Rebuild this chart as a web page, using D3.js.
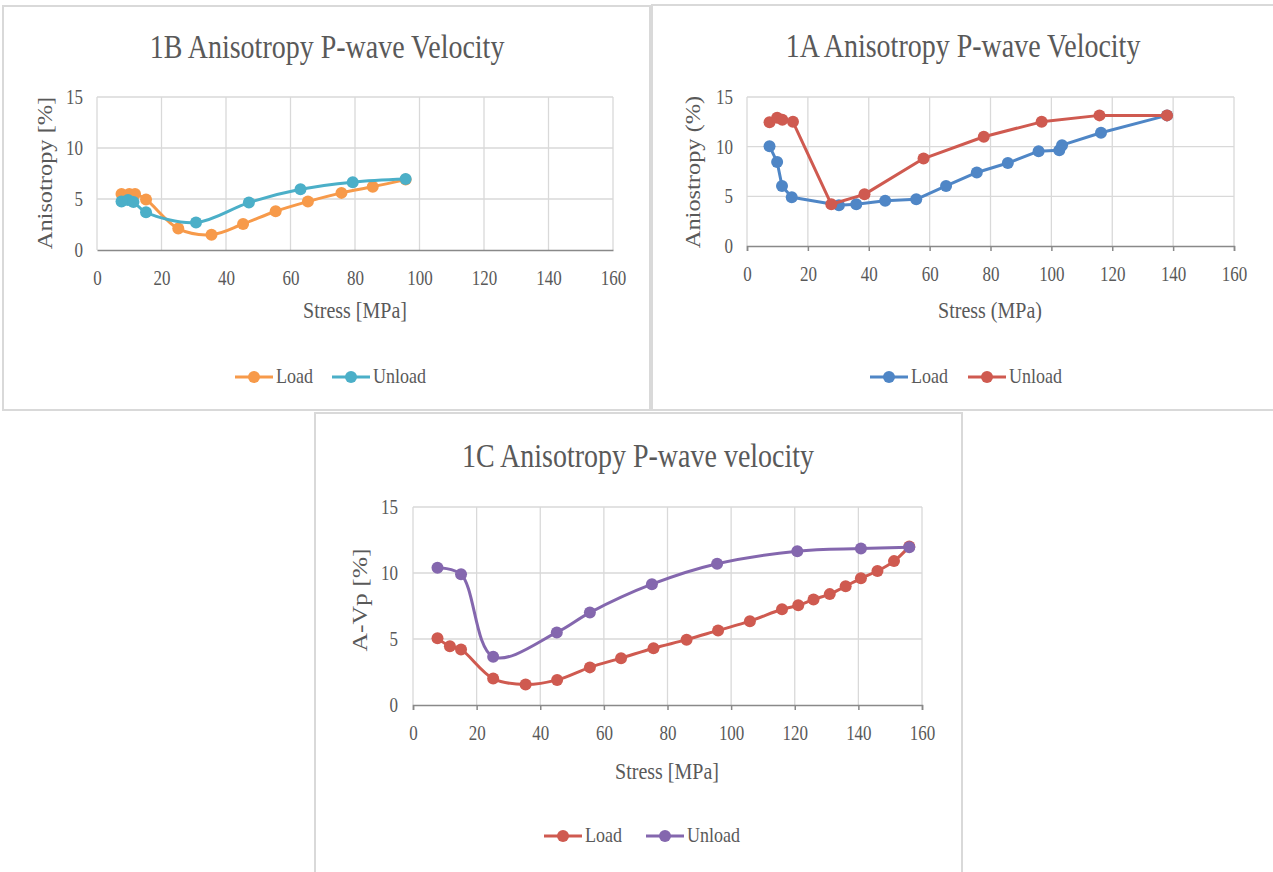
<!DOCTYPE html>
<html>
<head>
<meta charset="utf-8">
<script src="https://cdn.jsdelivr.net/npm/d3@7"></script>
<style>
  html, body { margin: 0; padding: 0; background: #fff; }
  svg text { font-family: "Liberation Serif", "DejaVu Serif", serif; fill: #595959; }
</style>
</head>
<body>
<svg id="chart" width="1273" height="872"></svg>
<script>
// ---------- DATA ----------
const xTicks = [0, 20, 40, 60, 80, 100, 120, 140, 160];
const yTicks = [0, 5, 10, 15];
const seriesNames = ["Load", "Unload"];

// 1B
const load1B = [[7.6,5.5],[10,5.5],[11.8,5.5],[15.2,4.95],[25.2,2.1],[35.5,1.5],[45.3,2.55],[55.4,3.8],[65.4,4.75],[75.8,5.6],[85.5,6.2],[95.7,6.9]];
const unload1B = [[7.6,4.75],[9.6,4.9],[11.3,4.7],[15.2,3.7],[30.7,2.7],[47.1,4.65],[63.1,5.95],[79.3,6.65],[95.7,6.95]];
// 1A
const load1A = [[7.4,10.05],[9.9,8.45],[11.5,6.05],[14.7,4.9],[30.2,4.1],[35.9,4.2],[45.4,4.55],[55.6,4.7],[65.4,6.05],[75.5,7.4],[85.7,8.35],[95.8,9.55],[102.6,9.65],[103.5,10.15],[116.3,11.4],[138,13.15]];
const unload1A = [[7.4,12.45],[9.9,12.9],[11.6,12.7],[15.1,12.5],[27.7,4.2],[38.6,5.2],[58,8.8],[77.8,11],[96.8,12.5],[115.8,13.15],[138,13.15]];
// 1C
const load1C = [[7.7,5.05],[11.6,4.45],[15.1,4.2],[25.2,2.0],[35.4,1.55],[45.3,1.9],[55.6,2.85],[65.4,3.55],[75.6,4.3],[86,4.95],[95.9,5.65],[105.9,6.35],[116,7.25],[121.1,7.55],[125.9,8.0],[131,8.4],[136,9.0],[140.8,9.6],[146,10.15],[151.2,10.9],[156,12.0]];
const unload1C = [[7.7,10.4],[15.1,9.9],[25.2,3.65],[45.2,5.5],[55.6,7.0],[75.1,9.15],[95.6,10.7],[120.8,11.65],[140.8,11.85],[156,11.95]];

const titles = ["1B Anisotropy P-wave Velocity", "1A Anisotropy P-wave Velocity", "1C Anisotropy P-wave velocity"];
const xTitles = ["Stress [MPa]", "Stress (MPa)", "Stress [MPa]"];
const yTitles = ["Anisotropy [%]", "Aniostropy (%)", "A-Vp [%]"];

// ---------- DRAW ----------
const svg = d3.select("#chart");
const SY = 1.18; // vertical stretch of glyphs seen in the reference

function htext(g, x, y, size, txt, anchor) {
  return g.append("text")
    .attr("transform", `translate(${x},${y}) scale(1,${SY})`)
    .attr("text-anchor", anchor || "start")
    .attr("font-size", size).text(txt);
}

function drawPanel(cfg) {
  const g = svg.append("g");
  g.append("rect").attr("x", cfg.box[0]).attr("y", cfg.box[1])
    .attr("width", cfg.box[2]).attr("height", cfg.box[3])
    .attr("fill", "#fff").attr("stroke", "#d9d9d9").attr("stroke-width", 2);

  const x = d3.scaleLinear().domain([0, 160]).range([cfg.plot[0], cfg.plot[1]]);
  const y = d3.scaleLinear().domain([0, 15]).range([cfg.plot[3], cfg.plot[2]]);

  g.append("g").selectAll("line").data(xTicks).join("line")
    .attr("x1", d => x(d)).attr("x2", d => x(d))
    .attr("y1", y(15)).attr("y2", y(0))
    .attr("stroke", "#d9d9d9").attr("stroke-width", 1.3);
  g.append("g").selectAll("line").data(yTicks.filter(d => d > 0)).join("line")
    .attr("x1", x(0)).attr("x2", x(160))
    .attr("y1", d => y(d)).attr("y2", d => y(d))
    .attr("stroke", "#d9d9d9").attr("stroke-width", 1.3);

  const xa = g.append("g").attr("transform", `translate(0,${y(0)})`)
    .call(d3.axisBottom(x).tickValues(xTicks).tickSize(cfg.tickLen).tickPadding(cfg.xPad).tickFormat(d3.format("d")));
  xa.select(".domain").attr("stroke", "#898989").attr("stroke-width", 1.5);
  xa.selectAll(".tick line").attr("stroke", "#898989").attr("stroke-width", 1.5);
  xa.selectAll("text").attr("font-size", 17).attr("fill", "#595959")
    .attr("transform", `scale(1,${SY})`)
    .style("font-family", '"Liberation Serif", serif');

  const ya = g.append("g").attr("transform", `translate(${x(0)},0)`)
    .call(d3.axisLeft(y).tickValues(yTicks).tickSize(0).tickPadding(cfg.yPad));
  ya.select(".domain").remove();
  ya.selectAll("text").attr("font-size", 17).attr("fill", "#595959")
    .attr("transform", `scale(1,${SY})`)
    .style("font-family", '"Liberation Serif", serif');

  htext(g, cfg.title[0], cfg.title[1], 28, cfg.titleText, "middle");
  htext(g, cfg.xt[0], cfg.xt[1], 20, cfg.xTitle, "middle");
  g.append("text").attr("transform", `translate(${cfg.yt[0]},${cfg.yt[1]}) rotate(-90) scale(${cfg.ytScale},1)`)
    .attr("text-anchor", "middle").attr("font-size", 20).text(cfg.yTitle);

  const line = d3.line().x(d => x(d[0])).y(d => y(d[1])).curve(cfg.curve);
  cfg.series.forEach(s => {
    g.append("path").datum(s.data).attr("d", line)
      .attr("fill", "none").attr("stroke", s.color).attr("stroke-width", 3)
      .attr("stroke-linejoin", "round");
    g.append("g").selectAll("circle").data(s.data).join("circle")
      .attr("cx", d => x(d[0])).attr("cy", d => y(d[1])).attr("r", 6)
      .attr("fill", s.color);
  });

  cfg.series.forEach((s, i) => {
    const lx = cfg.legend[i], ly = cfg.legendY;
    g.append("line").attr("x1", lx - 19).attr("x2", lx + 19).attr("y1", ly).attr("y2", ly)
      .attr("stroke", s.color).attr("stroke-width", 3);
    g.append("circle").attr("cx", lx).attr("cy", ly).attr("r", 6).attr("fill", s.color);
    htext(g, lx + 22, ly + 6, 18, seriesNames[i]);
  });
}

drawPanel({
  box: [3, 6, 647, 404],
  plot: [97, 613, 97, 250],
  tickLen: 0, xPad: 18, yPad: 14,
  title: [327, 58], titleText: titles[0],
  xt: [355, 318], xTitle: xTitles[0],
  yt: [52, 173], yTitle: yTitles[0], ytScale: 1.22,
  curve: d3.curveCatmullRom.alpha(0.5),
  series: [{data: load1B, color: "#F79A4A"}, {data: unload1B, color: "#4BAFC8"}],
  legend: [254, 351], legendY: 377
});

drawPanel({
  box: [652, 5, 630, 405],
  plot: [747, 1234, 97, 246],
  tickLen: 5, xPad: 13, yPad: 14,
  title: [963, 57], titleText: titles[1],
  xt: [990, 318], xTitle: xTitles[1],
  yt: [700, 172], yTitle: yTitles[1], ytScale: 1.22,
  curve: d3.curveLinear,
  series: [{data: load1A, color: "#4F86C6"}, {data: unload1A, color: "#CF5A50"}],
  legend: [889, 987], legendY: 377
});

drawPanel({
  box: [315, 413, 647, 470],
  plot: [413, 922, 507, 705],
  tickLen: 5, xPad: 13, yPad: 15,
  title: [638, 467], titleText: titles[2],
  xt: [667, 779], xTitle: xTitles[2],
  yt: [367, 600], yTitle: yTitles[2], ytScale: 1.28,
  curve: d3.curveCatmullRom.alpha(0.5),
  series: [{data: load1C, color: "#CF5A50"}, {data: unload1C, color: "#8467AE"}],
  legend: [563, 665], legendY: 836
});
</script>
</body>
</html>
